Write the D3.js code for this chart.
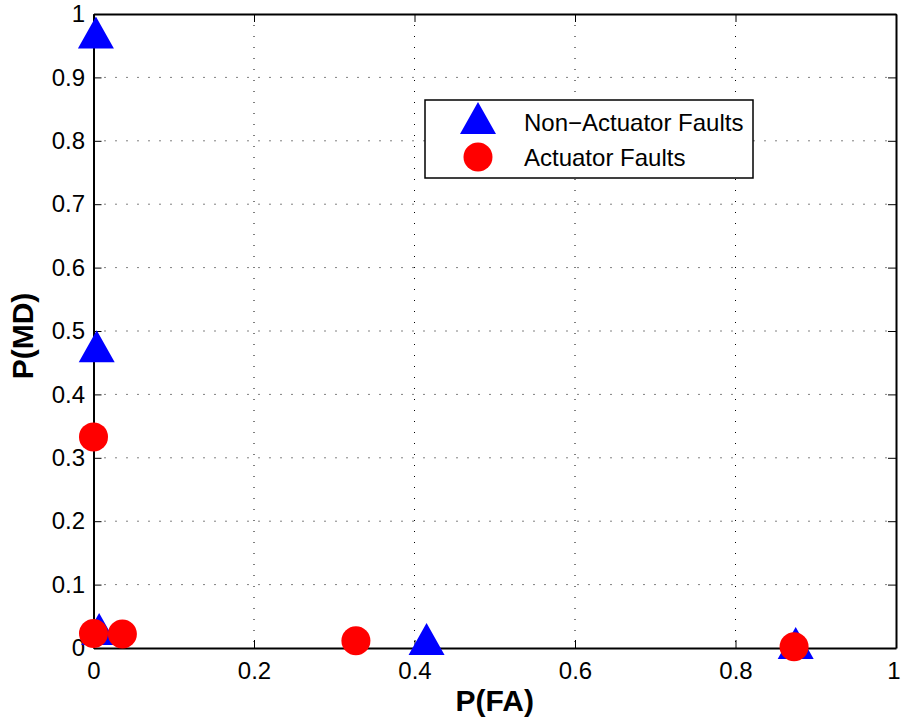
<!DOCTYPE html>
<html><head><meta charset="utf-8">
<script src="https://cdn.jsdelivr.net/npm/d3@7"></script>
<style>body{margin:0;background:#fff}svg{display:block}</style>
</head><body>
<script>
const nonActX = [0.003, 0.004, 0.007, 0.415, 0.875];
const nonActY = [0.971, 0.476, 0.030, 0.014, 0.008];
const actX = [0.000, 0.000, 0.036, 0.327, 0.873];
const actY = [0.333, 0.023, 0.022, 0.0115, 0.002];
const xTicks = [0, 0.2, 0.4, 0.6, 0.8, 1];
const yTicks = [0, 0.1, 0.2, 0.3, 0.4, 0.5, 0.6, 0.7, 0.8, 0.9, 1];
const seriesNames = ["Non\u2212Actuator Faults", "Actuator Faults"];

const W = 901, H = 721;
const L = 93.5, R = 896, T = 14, B = 648;
const svg = d3.select("body").append("svg").attr("width", W).attr("height", H);
const x = d3.scaleLinear().domain([0, 1]).range([L, R]);
const y = d3.scaleLinear().domain([0, 1]).range([B, T]);
const font = "Liberation Sans, Arial, sans-serif";

// grid
const g = svg.append("g");
g.selectAll(".gx").data(xTicks.slice(1, -1)).enter().append("line")
  .attr("x1", d => x(d)).attr("x2", d => x(d)).attr("y1", T).attr("y2", B)
  .attr("stroke", "#000").attr("stroke-width", 1).attr("stroke-dasharray", "1,10");
g.selectAll(".gy").data(yTicks.slice(1, -1)).enter().append("line")
  .attr("y1", d => y(d)).attr("y2", d => y(d)).attr("x1", L).attr("x2", R)
  .attr("stroke", "#000").attr("stroke-width", 1).attr("stroke-dasharray", "1,10");

// axes
const tl = 8;
const ax = svg.append("g").attr("transform", `translate(0,${B})`)
  .call(d3.axisBottom(x).tickValues(xTicks).tickFormat(d3.format("")).tickSizeInner(-tl).tickSizeOuter(0).tickPadding(14));
const ay = svg.append("g").attr("transform", `translate(${L},0)`)
  .call(d3.axisLeft(y).tickValues(yTicks).tickFormat(d3.format("")).tickSizeInner(-tl).tickSizeOuter(0).tickPadding(8.5));
const at = svg.append("g").attr("transform", `translate(0,${T})`)
  .call(d3.axisTop(x).tickValues(xTicks).tickFormat("").tickSizeInner(-tl).tickSizeOuter(0));
const ar = svg.append("g").attr("transform", `translate(${R},0)`)
  .call(d3.axisRight(y).tickValues(yTicks).tickFormat("").tickSizeInner(-tl).tickSizeOuter(0));
[ax, ay, at, ar].forEach(a => {
  a.select(".domain").attr("stroke", "#000").attr("stroke-width", 2);
  a.selectAll(".tick line").attr("stroke", "#000").attr("stroke-width", 1);
  a.selectAll("text").attr("font-family", font).attr("font-size", 24).attr("fill", "#000");
});
// keep the last x label inside the window
ax.selectAll(".tick text").filter(d => d === 1).attr("text-anchor", "end").attr("x", W - R - 1);

// markers (triangle centred on its bounding box, like MATLAB '^')
const tw = 36, th = 32;
const triPath = `M0,${-th / 2}L${tw / 2},${th / 2}L${-tw / 2},${th / 2}Z`;
svg.selectAll(".tri").data(nonActX.map((v, i) => [v, nonActY[i]])).enter().append("path")
  .attr("d", triPath).attr("transform", d => `translate(${x(d[0])},${y(d[1])})`)
  .attr("fill", "#0000ff");
svg.selectAll(".circ").data(actX.map((v, i) => [v, actY[i]])).enter().append("circle")
  .attr("cx", d => x(d[0])).attr("cy", d => y(d[1])).attr("r", 14.5).attr("fill", "#ff0000");

// legend
const lg = svg.append("g");
lg.append("rect").attr("x", 425).attr("y", 100).attr("width", 328).attr("height", 78)
  .attr("fill", "#fff").attr("stroke", "#000").attr("stroke-width", 1.5);
lg.append("path").attr("d", triPath).attr("transform", "translate(478,118)").attr("fill", "#0000ff");
lg.append("circle").attr("cx", 478).attr("cy", 157).attr("r", 14.5).attr("fill", "#ff0000");
lg.selectAll(".lt").data(seriesNames).enter().append("text")
  .attr("x", 524).attr("y", (d, i) => 131 + i * 34.5)
  .attr("font-family", font).attr("font-size", 24).text(d => d);

// axis labels
svg.append("text").attr("x", (L + R) / 2).attr("y", 711).attr("text-anchor", "middle")
  .attr("font-family", font).attr("font-size", 30).attr("font-weight", "bold").text("P(FA)");
svg.append("text").attr("transform", `translate(33,${336}) rotate(-90)`).attr("text-anchor", "middle")
  .attr("font-family", font).attr("font-size", 30).attr("font-weight", "bold").text("P(MD)");
</script>
</body></html>
